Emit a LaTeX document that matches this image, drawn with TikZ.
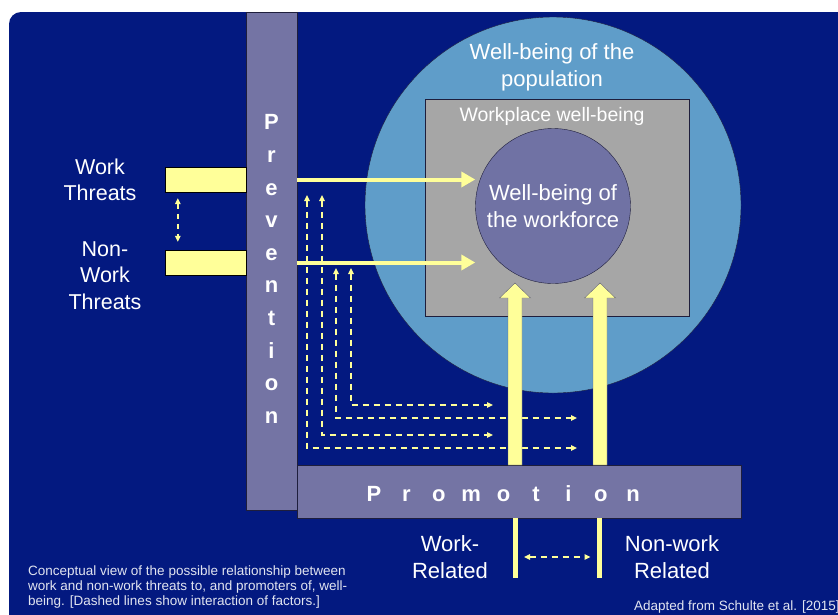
\documentclass[tikz,border=0pt]{standalone}
\usepackage{fontspec}
\setmainfont{Liberation Sans}
\usepackage{tikz}
\usetikzlibrary{
  % tips for the solid and dashed arrows
  arrows.meta,%
  calc,%
  positioning
}
\definecolor{slideblue}{RGB}{3,25,128}
\definecolor{barslate}{RGB}{116,116,164}
\definecolor{popblue}{RGB}{95,157,201}
\definecolor{placegray}{RGB}{166,166,166}
\definecolor{forceslate}{RGB}{112,114,164}
\definecolor{paleyellow}{RGB}{255,255,153}
\definecolor{edgedark}{RGB}{30,30,60}
\definecolor{notegray}{RGB}{225,228,240}
\tikzset{>=latex}
\tikzset{
  bar/.style={draw=edgedark, fill=barslate, inner sep=0pt},
  threatbox/.style={draw=black, fill=paleyellow, minimum width=81pt,
    minimum height=25pt, inner sep=0pt},
  bigarrow/.style={paleyellow, line width=4pt,
    -{Triangle[length=14pt,width=15pt]}},
  interact/.style={paleyellow, line width=1.4pt, dash pattern=on 6pt off 5pt,
    {Triangle[length=6pt,width=5.5pt]}-{Triangle[length=6pt,width=5.5pt]}},
  blockarrow/.style={draw=edgedark!70, fill=paleyellow},
  relbar/.style={paleyellow, line width=5pt},
  bigtext/.style={text=white, align=center, inner sep=0pt,
    font=\fontsize{22}{26.5}\selectfont},
  barletter/.style={text=white, inner sep=0pt,
    font=\bfseries\fontsize{22}{32.6}\selectfont},
  captiontext/.style={text=notegray, align=left, inner sep=0pt,
    font=\fontsize{13.5}{15}\selectfont}
}

\begin{document}
\begin{tikzpicture}[x=1pt, y=-1pt]
  \useasboundingbox (0,0) rectangle (838,614); %
  \clip (0,0) rectangle (838,614); %
  \fill[white] (0,0) rectangle (838,614); %
  \fill[slideblue, rounded corners=12pt] (9,12) rectangle (870,650); %

  % circles and the workplace box
  \node[circle, draw=edgedark, fill=popblue, minimum size=376pt] (population)
  at (553,205) {}; %
  \node[draw=edgedark, fill=placegray, minimum width=264pt,
  minimum height=217pt] (workplace) at (557,207.5) {}; %
  \node[circle, draw=edgedark, fill=forceslate, minimum size=155pt,
  inner sep=0pt, bigtext] (workforce) at (553,206) {Well-being of\\the workforce}; %
  \node[bigtext] (poplabel) at (552,67.5) {Well-being of the\\population}; %
  \node[bigtext, font=\fontsize{19.5}{22}\selectfont] (placelabel)
  at (552,116) {Workplace well-being}; %

  % the two bars
  \node[bar, minimum width=51pt, minimum height=498pt] (prevention)
  at (271.5,261) {}; %
  \node[barletter, align=center] (prevword) at (271.5,269)
  {P\\r\\e\\v\\e\\n\\t\\i\\o\\n}; %
  \node[bar, minimum width=444pt, minimum height=53pt] (promotion)
  at (519,491.5) {}; %
  \foreach \ch [count=\i from 0] in {P,r,o,m,o,t,i,o,n}
  \node[barletter, anchor=base] (promo\i) at (374+32.4*\i,501) {\ch}; %

  % threats
  \node[threatbox] (workthreat) at (205.5,179.5) {}; %
  \node[threatbox] (nonworkthreat) at (205.5,262.5) {}; %
  \node[bigtext, font=\fontsize{21.5}{26.5}\selectfont] (worklabel)
  at (100,180) {Work\\Threats}; %
  \node[bigtext, font=\fontsize{21.5}{26.5}\selectfont] (nonworklabel)
  at (105,275.5) {Non-\\Work\\Threats}; %
  \draw[interact, dash pattern=on 5pt off 5pt, shorten <=6pt, shorten >=8pt]
  ([xshift=13pt]workthreat.south west) --
  ([xshift=13pt]nonworkthreat.north west); %

  % interaction of factors
  \coordinate (d1) at (307,195); \coordinate (d2) at (322,195); %
  \coordinate (d3) at (336,268); \coordinate (d4) at (351,268); %
  \coordinate (e1) at (577,448); \coordinate (e2) at (493,435); %
  \coordinate (e3) at (577,418); \coordinate (e4) at (493,405); %
  \foreach \k in {1,2,3,4}
  \draw[interact] (d\k) |- (e\k); %

  % prevention arrows
  \draw[bigarrow] (prevention.east |- workthreat.east) --
  (workforce.west |- workthreat.east); %
  \draw[bigarrow] (prevention.east |- nonworkthreat.east) --
  (workforce.west |- nonworkthreat.east); %

  % promotion arrows
  \foreach \ax in {515,600}
  \draw[blockarrow] (\ax-7,465) -- (\ax-7,298) -- (\ax-15.5,298) --
  (\ax,283) -- (\ax+15.5,298) -- (\ax+7,298) -- (\ax+7,465) -- cycle; %

  % work and non-work related
  \coordinate (wrtop) at (515,518); \coordinate (wrbot) at (515,578); %
  \coordinate (nrtop) at (599.5,518); \coordinate (nrbot) at (599.5,578); %
  \draw[relbar] (wrtop) -- (wrbot); %
  \draw[relbar] (nrtop) -- (nrbot); %
  \draw[interact, shorten <=9pt, shorten >=9pt] ($(wrtop)!0.65!(wrbot)$) --
  ($(nrtop)!0.65!(nrbot)$); %
  \node[bigtext] (workrel) at (450,557) {Work-\\Related}; %
  \node[bigtext] (nonworkrel) at (672,557) {Non-work\\Related}; %

  % notes
  \node[captiontext, anchor=north west] (caption) at (28,566)
  {Conceptual view of the possible relationship between\\
    work and non-work threats to, and promoters of, well-\\
    being. [Dashed lines show interaction of factors.]}; %
  \node[captiontext, anchor=base west] (source) at (634,610)
  {Adapted from Schulte et al. [2015]}; %
\end{tikzpicture}
\end{document}
